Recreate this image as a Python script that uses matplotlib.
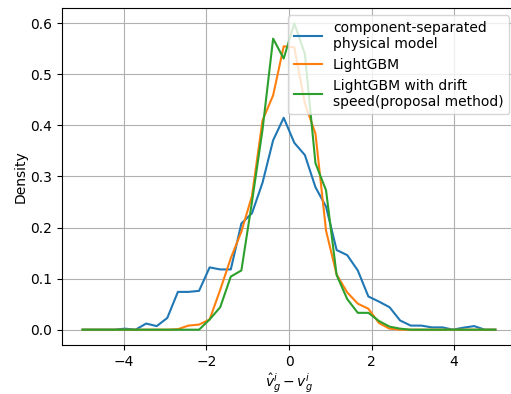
import numpy as np
import matplotlib
matplotlib.use("Agg")
import matplotlib.pyplot as plt

x = np.linspace(-5, 5, 40)

physical = [0, 0, 0, 0, 0.002, 0, 0.012, 0.007, 0.023, 0.074,
            0.074, 0.076, 0.122, 0.118, 0.118, 0.208, 0.228, 0.288, 0.371, 0.415,
            0.366, 0.342, 0.279, 0.241, 0.156, 0.146, 0.116, 0.065, 0.055, 0.044,
            0.018, 0.008, 0.008, 0.0045, 0.0045, 0, 0.004, 0.007, 0, 0]

lightgbm = [0, 0, 0, 0, 0, 0, 0, 0, 0, 0.001,
            0.008, 0.010, 0.020, 0.078, 0.140, 0.192, 0.262, 0.410, 0.459, 0.555,
            0.553, 0.443, 0.384, 0.194, 0.108, 0.073, 0.051, 0.041, 0.013, 0.002,
            0, 0, 0, 0, 0, 0, 0, 0, 0, 0]

proposal = [0, 0, 0, 0, 0, 0, 0, 0, 0, 0,
            0, 0, 0.020, 0.044, 0.104, 0.116, 0.250, 0.392, 0.570, 0.531,
            0.600, 0.540, 0.326, 0.273, 0.107, 0.060, 0.033, 0.033, 0.017, 0.006,
            0.002, 0, 0, 0, 0, 0, 0, 0, 0, 0]

labels = ["component-separated\nphysical model", "LightGBM",
          "LightGBM with drift\nspeed(proposal method)"]

fig = plt.figure(figsize=(5.11, 3.94), dpi=100)
ax = fig.add_axes([62/511, 49/394, (516-62)/511, (345-8)/394])
ax.plot(x, physical, label=labels[0])
ax.plot(x, lightgbm, label=labels[1])
ax.plot(x, proposal, label=labels[2])
ax.set_xlabel(r'$\hat{v}_g^i - v_g^i$', labelpad=2)
ax.set_ylabel('Density', labelpad=2)
ax.spines['right'].set_visible(False)
ax.grid(True)
ax.legend(loc='upper right')
fig.savefig('out.png', dpi=100)
